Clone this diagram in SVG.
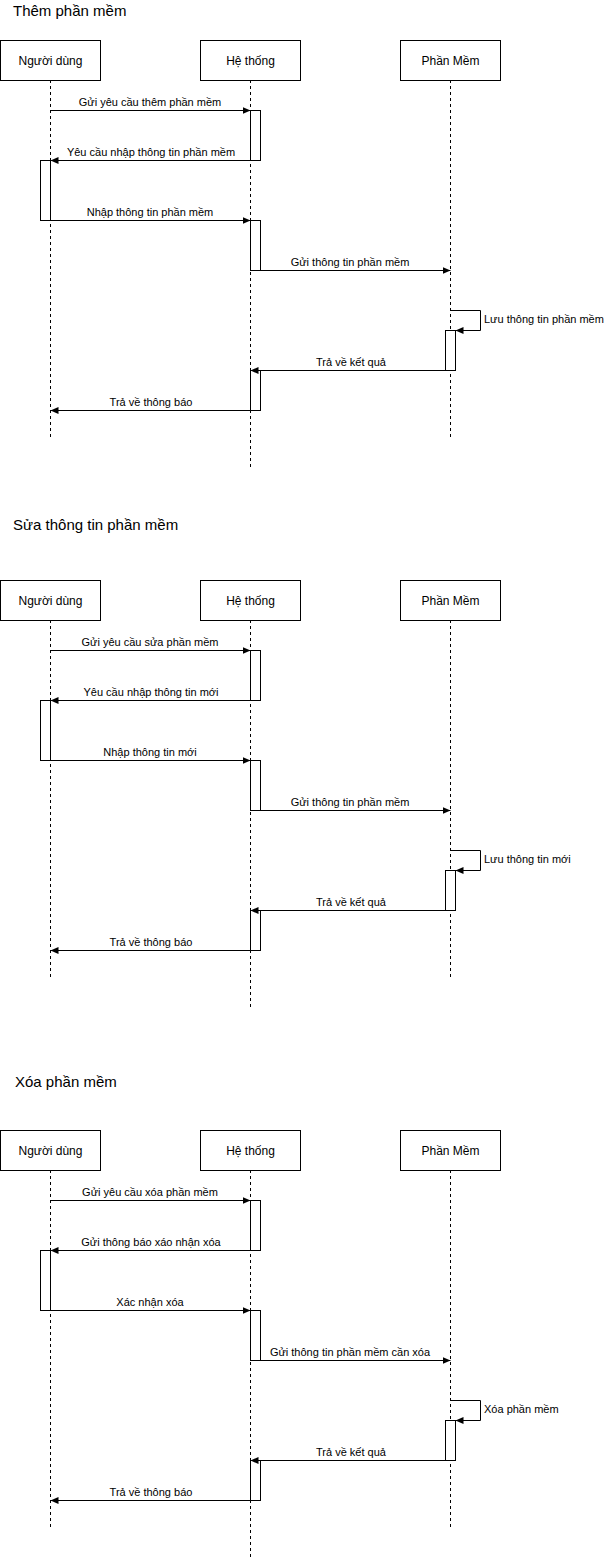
<svg xmlns="http://www.w3.org/2000/svg" width="605" height="1561" viewBox="0 0 605 1561">
<style>
.bg{fill:#ffffff}
.box{fill:#ffffff;stroke:#000000;stroke-width:1}
.act{fill:#ffffff;stroke:#000000;stroke-width:1}
.life{fill:none;stroke:#000000;stroke-width:1;stroke-dasharray:3 3}
.msg{fill:none;stroke:#000000;stroke-width:1;marker-end:url(#arr)}
.t{font-family:"Liberation Sans",Arial,sans-serif;fill:#000000}
.title{font-size:15px}
.lbl{font-size:12px;text-anchor:middle}
.m{font-size:11px;text-anchor:middle}
.ms{font-size:11px}
</style>
<defs>
<marker id="arr" markerUnits="userSpaceOnUse" markerWidth="9" markerHeight="8" refX="8" refY="3.5" orient="auto">
<path d="M0,0 L8,3.5 L0,7 z" fill="#000000"/>
</marker>
</defs>
<rect class="bg" x="0" y="0" width="605" height="1561"/>

<!-- Diagram 1 -->
<g id="d1">
<text class="t title" x="13" y="16">Thêm phần mềm</text>
<g id="d1-lifelines">
<line class="life" x1="50.5" y1="80" x2="50.5" y2="437"/>
<line class="life" x1="250.5" y1="80" x2="250.5" y2="467"/>
<line class="life" x1="450.5" y1="80" x2="450.5" y2="437"/>
</g>
<g id="d1-user"><rect class="box" x="0.5" y="40.5" width="100" height="40"/><text class="t lbl" x="50.5" y="64.5">Người dùng</text></g>
<g id="d1-system"><rect class="box" x="200.5" y="40.5" width="100" height="40"/><text class="t lbl" x="250.5" y="64.5">Hệ thống</text></g>
<g id="d1-software"><rect class="box" x="400.5" y="40.5" width="100" height="40"/><text class="t lbl" x="450.5" y="64.5">Phần Mềm</text></g>
<g id="d1-activations">
<rect class="act" x="250.5" y="110.5" width="10" height="50"/>
<rect class="act" x="40.5" y="160.5" width="10" height="60"/>
<rect class="act" x="250.5" y="220.5" width="10" height="50"/>
<rect class="act" x="445.5" y="330.5" width="10" height="40"/>
<rect class="act" x="250.5" y="370.5" width="10" height="40"/>
</g>
<g id="d1-connectors">
<line class="msg" x1="50.5" y1="110.5" x2="250.5" y2="110.5"/>
<text class="t m" x="150" y="106">Gửi yêu cầu thêm phần mềm</text>
<line class="msg" x1="260.5" y1="160.5" x2="50.5" y2="160.5"/>
<text class="t m" x="151" y="156">Yêu cầu nhập thông tin phần mềm</text>
<line class="msg" x1="40.5" y1="220.5" x2="250.5" y2="220.5"/>
<text class="t m" x="150" y="216">Nhập thông tin phần mềm</text>
<line class="msg" x1="250.5" y1="270.5" x2="450.5" y2="270.5"/>
<text class="t m" x="350" y="266">Gửi thông tin phần mềm</text>
<polyline class="msg" points="450.5,310.5 480.5,310.5 480.5,330.5 455.5,330.5"/>
<text class="t ms" x="484" y="323">Lưu thông tin phần mềm</text>
<line class="msg" x1="445.5" y1="370.5" x2="250.5" y2="370.5"/>
<text class="t m" x="351" y="366">Trả về kết quả</text>
<line class="msg" x1="260.5" y1="410.5" x2="50.5" y2="410.5"/>
<text class="t m" x="151" y="406">Trả về thông báo</text>
</g>
</g>

<!-- Diagram 2 -->
<g id="d2" transform="translate(0,540)">
<text class="t title" x="13" y="-10">Sửa thông tin phần mềm</text>
<g id="d2-lifelines">
<line class="life" x1="50.5" y1="80" x2="50.5" y2="437"/>
<line class="life" x1="250.5" y1="80" x2="250.5" y2="467"/>
<line class="life" x1="450.5" y1="80" x2="450.5" y2="437"/>
</g>
<g id="d2-user"><rect class="box" x="0.5" y="40.5" width="100" height="40"/><text class="t lbl" x="50.5" y="64.5">Người dùng</text></g>
<g id="d2-system"><rect class="box" x="200.5" y="40.5" width="100" height="40"/><text class="t lbl" x="250.5" y="64.5">Hệ thống</text></g>
<g id="d2-software"><rect class="box" x="400.5" y="40.5" width="100" height="40"/><text class="t lbl" x="450.5" y="64.5">Phần Mềm</text></g>
<g id="d2-activations">
<rect class="act" x="250.5" y="110.5" width="10" height="50"/>
<rect class="act" x="40.5" y="160.5" width="10" height="60"/>
<rect class="act" x="250.5" y="220.5" width="10" height="50"/>
<rect class="act" x="445.5" y="330.5" width="10" height="40"/>
<rect class="act" x="250.5" y="370.5" width="10" height="40"/>
</g>
<g id="d2-connectors">
<line class="msg" x1="50.5" y1="110.5" x2="250.5" y2="110.5"/>
<text class="t m" x="150" y="106">Gửi yêu cầu sửa phần mềm</text>
<line class="msg" x1="260.5" y1="160.5" x2="50.5" y2="160.5"/>
<text class="t m" x="151" y="156">Yêu cầu nhập thông tin mới</text>
<line class="msg" x1="40.5" y1="220.5" x2="250.5" y2="220.5"/>
<text class="t m" x="150" y="216">Nhập thông tin mới</text>
<line class="msg" x1="250.5" y1="270.5" x2="450.5" y2="270.5"/>
<text class="t m" x="350" y="266">Gửi thông tin phần mềm</text>
<polyline class="msg" points="450.5,310.5 480.5,310.5 480.5,330.5 455.5,330.5"/>
<text class="t ms" x="484" y="323">Lưu thông tin mới</text>
<line class="msg" x1="445.5" y1="370.5" x2="250.5" y2="370.5"/>
<text class="t m" x="351" y="366">Trả về kết quả</text>
<line class="msg" x1="260.5" y1="410.5" x2="50.5" y2="410.5"/>
<text class="t m" x="151" y="406">Trả về thông báo</text>
</g>
</g>

<!-- Diagram 3 -->
<g id="d3" transform="translate(0,1090)">
<text class="t title" x="15" y="-3">Xóa phần mềm</text>
<g id="d3-lifelines">
<line class="life" x1="50.5" y1="80" x2="50.5" y2="437"/>
<line class="life" x1="250.5" y1="80" x2="250.5" y2="467"/>
<line class="life" x1="450.5" y1="80" x2="450.5" y2="437"/>
</g>
<g id="d3-user"><rect class="box" x="0.5" y="40.5" width="100" height="40"/><text class="t lbl" x="50.5" y="64.5">Người dùng</text></g>
<g id="d3-system"><rect class="box" x="200.5" y="40.5" width="100" height="40"/><text class="t lbl" x="250.5" y="64.5">Hệ thống</text></g>
<g id="d3-software"><rect class="box" x="400.5" y="40.5" width="100" height="40"/><text class="t lbl" x="450.5" y="64.5">Phần Mềm</text></g>
<g id="d3-activations">
<rect class="act" x="250.5" y="110.5" width="10" height="50"/>
<rect class="act" x="40.5" y="160.5" width="10" height="60"/>
<rect class="act" x="250.5" y="220.5" width="10" height="50"/>
<rect class="act" x="445.5" y="330.5" width="10" height="40"/>
<rect class="act" x="250.5" y="370.5" width="10" height="40"/>
</g>
<g id="d3-connectors">
<line class="msg" x1="50.5" y1="110.5" x2="250.5" y2="110.5"/>
<text class="t m" x="150" y="106">Gửi yêu cầu xóa phần mềm</text>
<line class="msg" x1="260.5" y1="160.5" x2="50.5" y2="160.5"/>
<text class="t m" x="151" y="156">Gửi thông báo xáo nhận xóa</text>
<line class="msg" x1="40.5" y1="220.5" x2="250.5" y2="220.5"/>
<text class="t m" x="150" y="216">Xác nhận xóa</text>
<line class="msg" x1="250.5" y1="270.5" x2="450.5" y2="270.5"/>
<text class="t m" x="350" y="266">Gửi thông tin phần mềm cần xóa</text>
<polyline class="msg" points="450.5,310.5 480.5,310.5 480.5,330.5 455.5,330.5"/>
<text class="t ms" x="484" y="323">Xóa phần mềm</text>
<line class="msg" x1="445.5" y1="370.5" x2="250.5" y2="370.5"/>
<text class="t m" x="351" y="366">Trả về kết quả</text>
<line class="msg" x1="260.5" y1="410.5" x2="50.5" y2="410.5"/>
<text class="t m" x="151" y="406">Trả về thông báo</text>
</g>
</g>
</svg>
